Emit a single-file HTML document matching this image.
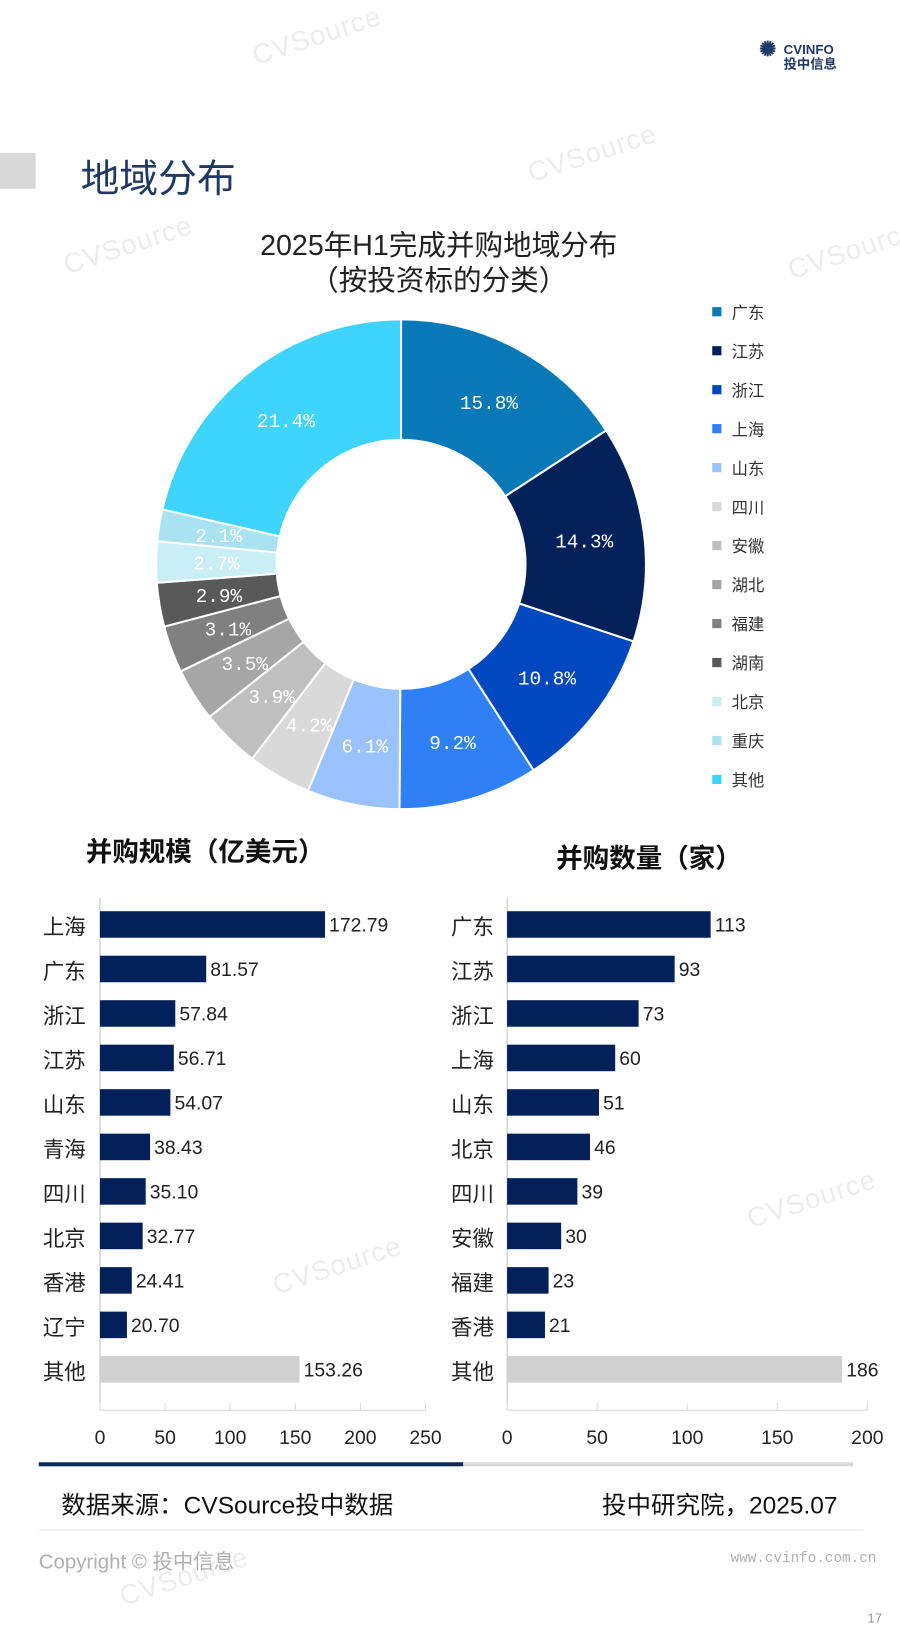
<!DOCTYPE html>
<html><head><meta charset="utf-8">
<style>
html,body{margin:0;padding:0;background:#fff;}
body{width:900px;height:1600px;position:relative;overflow:hidden;font-family:"Liberation Sans","Noto Sans CJK SC",sans-serif;}
#root{position:absolute;left:0;top:0;width:882px;height:1568px;transform:scale(1.0204);transform-origin:0 0;}
.abs{position:absolute;}
.wm{position:absolute;color:#ececec;font-size:27px;transform:rotate(-18deg);font-family:"Liberation Sans",sans-serif;letter-spacing:1px;}
</style></head><body>
<div id="root">
<div class="wm" style="left:245px;top:20px;">CVSource</div>
<div class="wm" style="left:515px;top:135px;">CVSource</div>
<div class="wm" style="left:60px;top:225px;">CVSource</div>
<div class="wm" style="left:770px;top:230px;">CVSource</div>
<div class="wm" style="left:730px;top:1160px;">CVSource</div>
<div class="wm" style="left:265px;top:1225px;">CVSource</div>
<div class="wm" style="left:115px;top:1530px;">CVSource</div>

<div class="abs" style="left:768px;top:42px;font-size:13px;color:#1f3864;font-weight:bold;line-height:14px;">
<span style="font-size:20px;color:#1f3864;position:absolute;left:-24px;top:0px;">✺</span>CVINFO<br>投中信息</div>

<div class="abs" style="left:0;top:150px;width:35px;height:35px;background:#d9d9d9;"></div>
<div class="abs" style="left:79px;top:144px;font-size:38px;color:#1f3864;">地域分布</div>

<div class="abs" style="left:180px;width:500px;top:224px;text-align:center;font-size:28px;line-height:34px;color:#222;">2025年H1完成并购地域分布<br>（按投资标的分类）</div>

<svg class="abs" style="left:0;top:0" width="882" height="1568">
<g id="donut"></g><g id="legend"></g><g id="bars1"></g><g id="bars2"></g>
</svg>

<div class="abs" style="left:84px;top:815px;font-size:26px;font-weight:bold;color:#111;">并购规模（亿美元）</div>
<div class="abs" style="left:545px;top:821px;font-size:26px;font-weight:bold;color:#111;">并购数量（家）</div>

<div class="abs" style="left:38px;top:1433px;width:416px;height:4px;background:#0e2a5a;"></div>
<div class="abs" style="left:454px;top:1433px;width:382px;height:4px;background:#d9d9d9;"></div>
<div class="abs" style="left:60px;top:1455px;font-size:24px;color:#111;">数据来源：CVSource投中数据</div>
<div class="abs" style="left:590px;top:1455px;font-size:24px;color:#111;">投中研究院，2025.07</div>
<div class="abs" style="left:38px;top:1499px;width:808px;height:1px;background:#e8e8e8;"></div>
<div class="abs" style="left:38px;top:1514px;font-size:20px;color:#b0b0b0;">Copyright © 投中信息</div>
<div class="abs" style="left:716px;top:1520px;font-size:14px;color:#b0b0b0;font-family:'Liberation Mono',monospace;">www.cvinfo.com.cn</div>
<div class="abs" style="left:850px;top:1578px;font-size:13px;color:#999;">17</div>
</div>

<script>
const regions=["广东","江苏","浙江","上海","山东","四川","安徽","湖北","福建","湖南","北京","重庆","其他"];
const shares=[15.8,14.3,10.8,9.2,6.1,4.2,3.9,3.5,3.1,2.9,2.7,2.1,21.4];
const colors=["#0878b6","#02215a","#0047c0","#2f80f5","#9ac2fc","#d9d9d9","#bfbfbf","#a6a6a6","#808080","#595959","#c9eef6","#a9e2f0","#3fd4fc"];

const cats1=["上海","广东","浙江","江苏","山东","青海","四川","北京","香港","辽宁","其他"];
const vals1=[172.79,81.57,57.84,56.71,54.07,38.43,35.10,32.77,24.41,20.70,153.26];
const ticks1=[0,50,100,150,200,250];
const cats2=["广东","江苏","浙江","上海","山东","北京","四川","安徽","福建","香港","其他"];
const vals2=[113,93,73,60,51,46,39,30,23,21,186];
const ticks2=[0,50,100,150,200];

const NS="http://www.w3.org/2000/svg";
function mk(tag,attrs,parent){const e=document.createElementNS(NS,tag);for(const k in attrs)e.setAttribute(k,attrs[k]);parent.appendChild(e);return e;}

const cx=393,cy=553,R=240,r=122;
const dg=document.getElementById('donut');
const total=shares.reduce((a,b)=>a+b,0);
let a0=-Math.PI/2;
shares.forEach((v,i)=>{
  const a1=a0+v/total*2*Math.PI;
  const p=(a,rad)=>[cx+rad*Math.cos(a),cy+rad*Math.sin(a)];
  const [x1,y1]=p(a0,R),[x2,y2]=p(a1,R),[x3,y3]=p(a1,r),[x4,y4]=p(a0,r);
  const large=(a1-a0)>Math.PI?1:0;
  const path=mk('path',{d:`M${x1},${y1}A${R},${R} 0 ${large} 1 ${x2},${y2}L${x3},${y3}A${r},${r} 0 ${large} 0 ${x4},${y4}Z`,fill:colors[i],stroke:'#fff','stroke-width':2},dg);
  
  
  const am=(a0+a1)/2,[lx,ly]=p(am,(R+r)/2);
  const t=mk('text',{x:lx,y:ly+7,'text-anchor':'middle','font-size':19,fill:'#fff','font-family':'"Liberation Mono","Noto Sans CJK SC",monospace'},dg);
  t.textContent=v.toFixed(1)+'%';
  
  
  a0=a1;
});
const lg=document.getElementById('legend');
regions.forEach((n,i)=>{
  const y=306+i*38.2;
  const s=mk('rect',{x:698,y:y-5,width:9,height:9,fill:colors[i]},lg);
  
  
  const t=mk('text',{x:717,y:y+6,'font-size':16,fill:'#333','font-family':'"Liberation Sans","Noto Sans CJK SC",sans-serif'},lg);
  t.textContent=n;
  
  
});

function barChart(gid,cats,vals,ticks,x0,x1,labelX,decimals){
  const g=document.getElementById(gid);
  const max=ticks[ticks.length-1];
  const sx=v=>x0+v/max*(x1-x0);
  const y0=906,step=43.6,bh=26,axisY=1382;
  const ax=mk('line',{x1:x0,y1:880,x2:x0,y2:axisY,stroke:'#bfbfbf','stroke-width':1},g);
  
  
  const bx=mk('line',{x1:x0,y1:axisY,x2:x1,y2:axisY,stroke:'#d9d9d9','stroke-width':1},g);
  
  
  ticks.forEach(t=>{
    const tk=mk('line',{x1:sx(t),y1:axisY,x2:sx(t),y2:axisY-7,stroke:'#d9d9d9'},g);
    
    
    const tl=mk('text',{x:sx(t),y:axisY+33,'text-anchor':'middle','font-size':19,fill:'#222','font-family':'"Liberation Sans",sans-serif'},g);
    tl.textContent=t;
    
    
  });
  cats.forEach((c,i)=>{
    const yc=y0+i*step;
    const last=i===cats.length-1;
    const b=mk('rect',{x:x0,y:yc-bh/2,width:sx(vals[i])-x0,height:bh,fill:last?'#d0d0d0':'#02215a'},g);
    
    
    const vl=mk('text',{x:sx(vals[i])+4,y:yc+7,'font-size':19,fill:'#222','font-family':'"Liberation Sans",sans-serif'},g);
    vl.textContent=decimals?vals[i].toFixed(2):vals[i];
    
    
    const cl=mk('text',{x:labelX,y:yc+10,'font-size':21,fill:'#222','text-anchor':'end','font-family':'"Liberation Sans","Noto Sans CJK SC",sans-serif'},g);
    cl.textContent=c;
    
    
  });
}
barChart('bars1',cats1,vals1,ticks1,98,417,84,true);
barChart('bars2',cats2,vals2,ticks2,497,850,484,false);
</script>
</body></html>
